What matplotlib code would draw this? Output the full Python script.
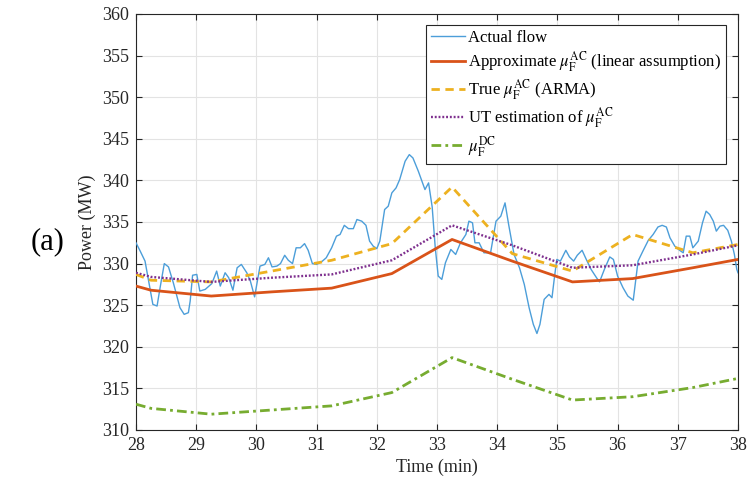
import matplotlib
matplotlib.use("Agg")
import matplotlib.pyplot as plt

# ---------------- data ----------------
flow_t = [28.00, 28.07, 28.15, 28.23, 28.28, 28.35, 28.40, 28.47, 28.54, 28.62,
          28.73, 28.80, 28.87, 28.90, 28.94, 29.01, 29.06, 29.15, 29.26, 29.34,
          29.40, 29.48, 29.54, 29.61, 29.68, 29.75, 29.84, 29.90, 29.97, 30.06,
          30.14, 30.20, 30.26, 30.34, 30.40, 30.47, 30.53, 30.60, 30.66, 30.73,
          30.80, 30.86, 30.93, 31.00, 31.08, 31.16, 31.25, 31.33, 31.39, 31.46,
          31.53, 31.61, 31.67, 31.75, 31.82, 31.88, 31.94, 32.00, 32.05, 32.13,
          32.19, 32.25, 32.32, 32.38, 32.47, 32.54, 32.60, 32.69, 32.74, 32.80,
          32.86, 32.92, 32.97, 33.02, 33.08, 33.14, 33.23, 33.31, 33.39, 33.48,
          33.53, 33.59, 33.63, 33.70, 33.78, 33.89, 33.98, 34.06, 34.13, 34.19,
          34.28, 34.37, 34.45, 34.53, 34.60, 34.66, 34.71, 34.78, 34.86, 34.91,
          34.95, 34.99, 35.05, 35.14, 35.20, 35.27, 35.33, 35.41, 35.48, 35.56,
          35.65, 35.70, 35.78, 35.87, 35.93, 36.00, 36.09, 36.17, 36.26, 36.30,
          36.34, 36.42, 36.51, 36.59, 36.67, 36.74, 36.81, 36.87, 36.95, 37.03,
          37.09, 37.14, 37.20, 37.25, 37.34, 37.41, 37.47, 37.53, 37.59, 37.64,
          37.70, 37.76, 37.83, 37.89, 37.94, 37.98, 38.00]
flow_p = [332.5, 331.5, 330.3, 327.1, 325.1, 324.9, 327.1, 330.0, 329.6, 327.7,
          324.7, 323.9, 324.1, 325.5, 328.6, 328.7, 326.7, 326.9, 327.6, 329.1,
          327.3, 328.9, 328.3, 326.8, 329.5, 329.9, 328.9, 327.9, 326.0, 329.7,
          329.9, 330.7, 329.6, 329.7, 330.0, 331.0, 330.4, 330.0, 331.9, 331.9,
          332.4, 331.6, 330.0, 329.9, 330.2, 330.7, 331.9, 333.3, 333.5, 334.6,
          334.2, 334.2, 335.3, 335.1, 334.6, 332.7, 332.1, 331.8, 332.7, 336.5,
          336.9, 338.5, 339.1, 340.1, 342.3, 343.1, 342.7, 341.1, 340.1, 338.9,
          339.7, 336.8, 332.0, 328.5, 328.1, 330.1, 331.7, 331.1, 332.5, 333.5,
          335.1, 334.9, 332.5, 332.5, 331.3, 331.3, 335.1, 335.7, 337.3, 334.7,
          331.1, 329.5, 327.5, 324.7, 322.7, 321.6, 322.7, 325.7, 326.3, 325.9,
          328.3, 330.5, 330.3, 331.6, 330.8, 330.3, 331.0, 331.6, 330.5, 329.3,
          328.3, 327.8, 329.3, 330.8, 330.5, 328.5, 327.1, 326.1, 325.6, 327.9,
          330.3, 331.5, 332.8, 333.5, 334.4, 334.6, 334.4, 333.1, 332.1, 331.6,
          331.3, 333.3, 333.3, 331.9, 332.7, 334.9, 336.3, 335.9, 335.1, 333.9,
          334.5, 334.6, 334.0, 332.7, 331.1, 329.3, 328.9]

est_t = [28.0, 28.25, 29.25, 30.25, 31.25, 32.25, 33.25, 34.25, 35.25, 36.25, 37.25, 38.0]
approx_ac = [327.3, 326.8, 326.1, 326.6, 327.05, 328.8, 332.9, 330.3, 327.8, 328.2, 329.5, 330.5]
true_ac   = [328.7, 328.0, 327.8, 329.1, 330.4, 332.4, 339.2, 331.2, 329.1, 333.5, 331.3, 332.3]
ut_ac     = [328.9, 328.4, 327.8, 328.3, 328.7, 330.4, 334.6, 332.2, 329.5, 329.8, 331.1, 332.2]
mu_dc     = [313.1, 312.6, 311.9, 312.4, 312.9, 314.5, 318.7, 316.1, 313.6, 314.0, 315.1, 316.2]

x_ticks = list(range(28, 39))
y_ticks = list(range(310, 361, 5))

# ---------------- style ----------------
plt.rcParams['font.family'] = ['Liberation Serif', 'DejaVu Serif']
plt.rcParams['mathtext.fontset'] = 'stix'
axcol = '#262626'

fig = plt.figure(figsize=(7.48, 4.80), dpi=100)
ax = fig.add_axes([136/748, 1-430/480, (738-136)/748, (430-14)/480])

ax.plot(flow_t, flow_p, color='#4C9ED9', lw=1.0, label='Actual flow', zorder=3)
ax.plot(est_t, approx_ac, color='#D95319', lw=2.0,
        label=r'Approximate $\mu_{\mathrm{F}}^{\mathrm{AC}}$ (linear assumption)', zorder=4)
ax.plot(est_t, true_ac, color='#EDB120', lw=2.0, dashes=(3, 2),
        label=r'True $\mu_{\mathrm{F}}^{\mathrm{AC}}$ (ARMA)', zorder=4)
ax.plot(est_t, ut_ac, color='#7E2F8E', lw=1.7, dashes=(0.8, 0.8),
        label=r'UT estimation of $\mu_{\mathrm{F}}^{\mathrm{AC}}$', zorder=4)
ax.plot(est_t, mu_dc, color='#77AC30', lw=2.0, dashes=(3.5, 1.5, 1, 1.5),
        label=r'$\mu_{\mathrm{F}}^{\mathrm{DC}}$', zorder=4)

ax.set_xlim(28, 38)
ax.set_ylim(310, 360)
ax.set_xticks(x_ticks)
ax.set_yticks(y_ticks)
ax.grid(True, color='#e3e3e3', lw=0.8)
ax.set_axisbelow(True)
ax.tick_params(direction='in', length=4, width=0.8, colors=axcol, labelsize=13,
               top=True, right=True, pad=5)
for s in ax.spines.values():
    s.set_color(axcol)
    s.set_linewidth(0.8)

ax.set_xlabel('Time (min)', fontsize=13, color=axcol)
ax.set_ylabel('Power (MW)', fontsize=13, color=axcol)
ax.xaxis.set_label_coords(0.5, -0.068)
ax.yaxis.set_label_coords(-0.066, 0.5)

fig.text(48/748, 1-242/480, '(a)', fontsize=22, ha='center', va='center', color='black')

leg = ax.legend(loc='upper right', bbox_to_anchor=(726/748, 1-25/480),
                bbox_transform=fig.transFigure, borderaxespad=0,
                fontsize=12, frameon=True, fancybox=False, framealpha=1,
                edgecolor=axcol, handlelength=2.0, handletextpad=0.2,
                labelspacing=0.2, borderpad=0.3)
leg.get_frame().set_linewidth(0.8)

fig.savefig('out.png', dpi=100)
